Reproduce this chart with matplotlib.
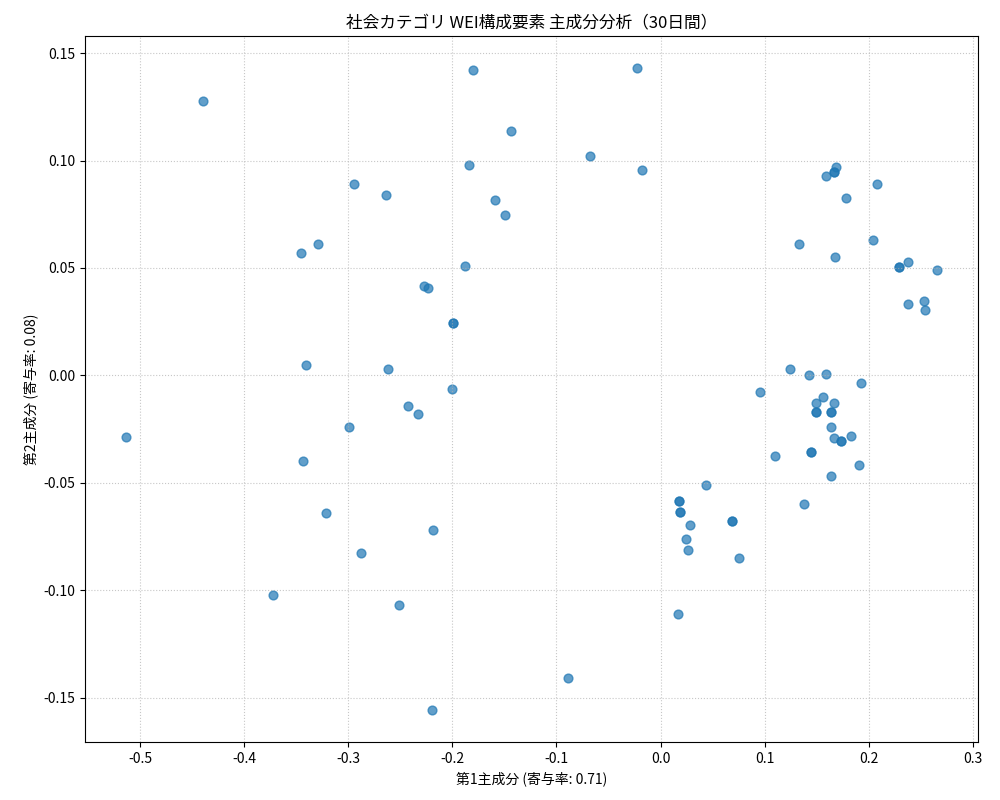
import matplotlib
matplotlib.use("Agg")
import matplotlib.pyplot as plt

plt.rcParams['font.family'] = ['Noto Sans CJK JP', 'DejaVu Sans']
plt.rcParams['axes.unicode_minus'] = False

# PCA scores (PC1, PC2)
pc1 = [
    -0.440, -0.180, -0.023, -0.144, -0.068, -0.184, -0.018, -0.295, -0.264, -0.159,
    -0.149, -0.329, -0.345, -0.1875, -0.227, -0.223, -0.199, -0.199, -0.341, -0.2615,
    -0.200, -0.243, -0.2335, -0.299, -0.514, -0.344, -0.321, -0.219, -0.288, -0.372,
    -0.251, -0.0885, -0.220,
    0.169, 0.167, 0.167, 0.1587, 0.178, 0.2077, 0.1327, 0.204, 0.168, 0.2288,
    0.2288, 0.2375, 0.266, 0.238, 0.253, 0.254, 0.124, 0.143, 0.1587, 0.193,
    0.096, 0.156, 0.149, 0.167, 0.149, 0.149, 0.164, 0.164, 0.1635, 0.167,
    0.1827, 0.173, 0.173, 0.145, 0.145, 0.1096, 0.191, 0.1635, 0.138, 0.044,
    0.018, 0.018, 0.019, 0.019, 0.028, 0.069, 0.069, 0.024, 0.026, 0.075, 0.0163,
]
pc2 = [
    0.1276, 0.142, 0.143, 0.1137, 0.102, 0.098, 0.0955, 0.089, 0.084, 0.0815,
    0.0745, 0.061, 0.0568, 0.0508, 0.0415, 0.0405, 0.0242, 0.0242, 0.0047, 0.0028,
    -0.0065, -0.014, -0.0177, -0.0238, -0.0284, -0.040, -0.0638, -0.0717, -0.0824, -0.102,
    -0.1067, -0.1407, -0.1556,
    0.0969, 0.0945, 0.0945, 0.0927, 0.0824, 0.089, 0.061, 0.0629, 0.055, 0.0503,
    0.0503, 0.0526, 0.0489, 0.0331, 0.0345, 0.0303, 0.0028, 0.0, 0.0009, -0.0037,
    -0.0075, -0.0098, -0.013, -0.0126, -0.0172, -0.0172, -0.0168, -0.0168, -0.0238, -0.0289,
    -0.028, -0.0303, -0.0303, -0.0354, -0.0354, -0.0373, -0.0415, -0.047, -0.0596, -0.0508,
    -0.0582, -0.0582, -0.0633, -0.0633, -0.0694, -0.0675, -0.0675, -0.076, -0.081, -0.0848, -0.1108,
]

fig, ax = plt.subplots(figsize=(10, 8), dpi=100)
ax.scatter(pc1, pc2, color="#1f77b4", alpha=0.7, s=40)
ax.set_title("社会カテゴリ WEI構成要素 主成分分析（30日間）")
ax.set_xlabel("第1主成分 (寄与率: 0.71)")
ax.set_ylabel("第2主成分 (寄与率: 0.08)")
ax.grid(True, linestyle=":", alpha=0.7)
fig.subplots_adjust(left=0.085, right=0.978, top=0.955, bottom=0.0725)
fig.savefig("out.png")
